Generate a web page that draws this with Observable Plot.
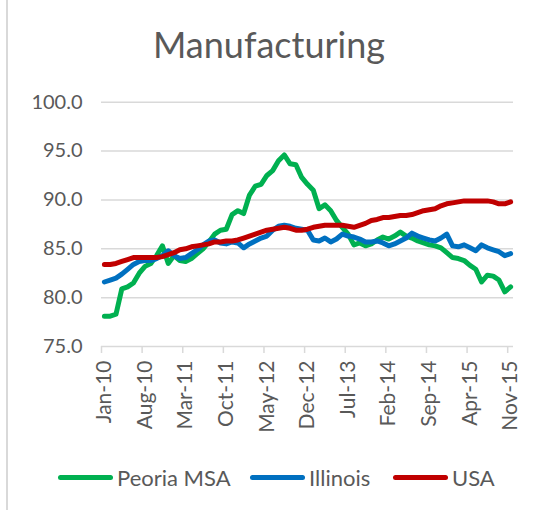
<!DOCTYPE html>
<html>
<head>
<meta charset="utf-8">
<script src="https://cdn.jsdelivr.net/npm/d3@7"></script>
<script src="https://cdn.jsdelivr.net/npm/@observablehq/plot@0.6"></script>
<style>
  html, body { margin: 0; padding: 0; background: #fff; }
  #wrap { position: relative; width: 534px; height: 510px; overflow: hidden; font-family: Lato, "Open Sans", sans-serif; color: #595959; }
  #border { position: absolute; left: 6px; top: 0; width: 2px; height: 510px; background: #d9d9d9; }
  #title { height: 80px; box-sizing: border-box; padding-top: 24px; text-align: center; font-size: 36px; line-height: 40px; padding-left: 4px; }
  #legend { position: absolute; top: 462px; left: 0; width: 534px; height: 30px; }
  #legend .item { position: absolute; top: 0; display: flex; align-items: center; height: 30px; font-size: 22px; }
  #legend .sw { width: 55px; height: 5px; border-radius: 3px; margin-right: 4px; }
  svg { display: block; }
</style>
</head>
<body>
<div id="wrap">
  <div id="border"></div>
  <div id="title">Manufacturing</div>
  <div id="chart"></div>
  <div id="legend"></div>
</div>
<script>
// Monthly index, Jan-10 .. Nov-15 (71 months)
const tickLabels = ["Jan-10","Aug-10","Mar-11","Oct-11","May-12","Dec-12","Jul-13","Feb-14","Sep-14","Apr-15","Nov-15"];
const yTicks = [75, 80, 85, 90, 95, 100];

const peoria = [
  78.1, 78.1, 78.3, 80.9, 81.1, 81.5, 82.5, 83.2, 83.5, 84.3,
  85.3, 83.5, 84.3, 83.8, 83.7, 84.0, 84.5, 85.0, 85.7, 86.5,
  86.9, 87.0, 88.5, 88.9, 88.6, 90.5, 91.4, 91.6, 92.5, 93.0,
  94.0, 94.6, 93.7, 93.6, 92.3, 91.6, 91.0, 89.1, 89.5, 88.9,
  87.9, 87.2, 86.5, 85.4, 85.6, 85.3, 85.5, 85.9, 86.2, 86.0,
  86.3, 86.7, 86.3, 86.1, 85.8, 85.6, 85.4, 85.3, 85.1, 84.6,
  84.1, 84.0, 83.8, 83.3, 82.9, 81.6, 82.3, 82.2, 81.8, 80.6,
  81.1
];
const illinois = [
  81.6, 81.8, 82.0, 82.4, 82.9, 83.4, 83.7, 83.8, 83.8, 84.0,
  84.3, 84.8, 84.3, 84.0, 84.1, 84.5, 84.9, 85.4, 85.8, 85.9,
  85.6, 85.5, 85.7, 85.6, 85.1, 85.5, 85.8, 86.1, 86.3, 86.9,
  87.3, 87.4, 87.3, 87.1, 87.0, 86.9, 85.9, 85.8, 86.1, 85.7,
  86.0, 86.5, 86.3, 86.2, 86.0, 85.7, 85.7, 85.8, 85.6, 85.3,
  85.5, 85.8, 86.1, 86.6, 86.3, 86.1, 85.9, 85.8, 86.1, 86.5,
  85.3, 85.2, 85.4, 85.1, 84.8, 85.4, 85.1, 84.9, 84.7, 84.3,
  84.5
];
const usa = [
  83.4, 83.4, 83.5, 83.7, 83.9, 84.1, 84.1, 84.1, 84.1, 84.1,
  84.2, 84.4, 84.6, 84.9, 85.0, 85.2, 85.3, 85.4, 85.5, 85.7,
  85.7, 85.8, 85.8, 85.9, 86.1, 86.3, 86.5, 86.7, 86.9, 87.0,
  87.1, 87.2, 87.1, 86.9, 86.9, 87.0, 87.2, 87.3, 87.4, 87.4,
  87.4, 87.4, 87.3, 87.2, 87.4, 87.6, 87.9, 88.0, 88.2, 88.2,
  88.3, 88.4, 88.4, 88.5, 88.7, 88.9, 89.0, 89.1, 89.4, 89.6,
  89.7, 89.8, 89.9, 89.9, 89.9, 89.9, 89.9, 89.8, 89.6, 89.6,
  89.8
];

const seriesNames = ["Peoria MSA", "Illinois", "USA"];
const seriesColors = ["#00b050", "#0070c0", "#c00000"];
const seriesValues = [peoria, illinois, usa];

const n = peoria.length;
const labelPos = tickLabels.map((_, k) => k * 7);            // category centres
const boundaries = tickLabels.map((_, k) => k * 7 - 0.5);     // tick marks between categories

const textColor = "#595959";
const gridColor = "#d9d9d9";

const chart = Plot.plot({
  width: 534,
  height: 360,
  marginLeft: 101,
  marginRight: 21,
  marginTop: 21.7,
  marginBottom: 94,
  style: { fontFamily: "Lato, 'Open Sans', sans-serif", color: textColor, background: "transparent" },
  x: { type: "linear", domain: [-0.5, n - 0.5] },
  y: { domain: [75, 100] },
  marks: [
    Plot.ruleY(yTicks.filter(d => d > 75), { stroke: gridColor, strokeWidth: 1.5 }),
    Plot.ruleY([75], { stroke: gridColor, strokeWidth: 1.5 }),
    Plot.axisY({ ticks: yTicks, tickSize: 0, tickPadding: 19, tickFormat: d => d.toFixed(1), fontSize: 20, fill: textColor, label: null }),
    Plot.axisX({ ticks: boundaries, tickSize: 7, tickFormat: () => "", stroke: gridColor, strokeWidth: 1.5, label: null }),
    Plot.axisX({ ticks: labelPos, tickSize: 0, tickPadding: 14, tickRotate: -90, tickFormat: d => tickLabels[Math.round(d / 7)], fontSize: 21, fill: textColor, label: null }),
    ...seriesValues.map((vals, s) =>
      Plot.lineY(vals, { x: (d, i) => i, y: d => d, stroke: seriesColors[s], strokeWidth: 5, strokeLinejoin: "round", strokeLinecap: "round" })
    )
  ]
});
document.getElementById("chart").appendChild(chart);

// legend
const legendX = [58, 250, 393];
const legend = document.getElementById("legend");
seriesNames.forEach((name, s) => {
  const item = document.createElement("div");
  item.className = "item";
  item.style.left = legendX[s] + "px";
  const sw = document.createElement("div");
  sw.className = "sw";
  sw.style.background = seriesColors[s];
  const t = document.createElement("span");
  t.textContent = name;
  item.appendChild(sw);
  item.appendChild(t);
  legend.appendChild(item);
});
</script>
</body>
</html>
